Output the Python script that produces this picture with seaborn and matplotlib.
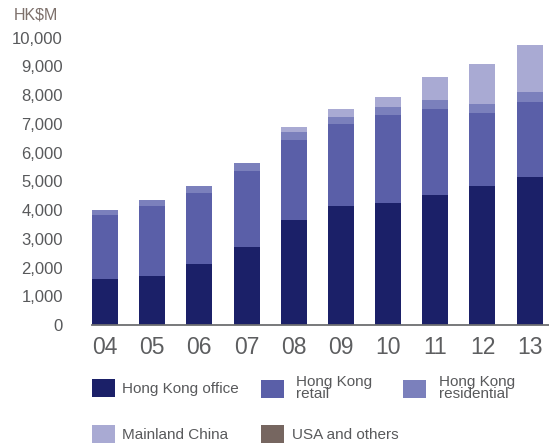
import numpy as np
import pandas as pd
import matplotlib
matplotlib.use("Agg")
import matplotlib.pyplot as plt
import seaborn as sns
from matplotlib.patches import Patch
from matplotlib.ticker import FuncFormatter

# ---- data (HK$M) ----
years = ["04", "05", "06", "07", "08", "09", "10", "11", "12", "13"]
hk_office = [1600, 1700, 2120, 2710, 3650, 4140, 4240, 4520, 4830, 5150]
hk_retail = [2230, 2440, 2470, 2650, 2780, 2850, 3060, 2990, 2540, 2610]
hk_residential = [170, 210, 240, 270, 280, 240, 280, 320, 320, 340]
mainland_china = [0, 0, 0, 0, 180, 280, 350, 800, 1390, 1640]
usa_others = [15, 0, 0, 0, 0, 0, 15, 0, 0, 0]

series_names = ["Hong Kong office", "Hong Kong\nretail", "Hong Kong\nresidential",
                "Mainland China", "USA and others"]
series_values = [hk_office, hk_retail, hk_residential, mainland_china, usa_others]
colors = ["#1b2068", "#5a5fa8", "#7b80bc", "#a9aad3", "#766660"]

sns.set_theme(style="white")
plt.rcParams["font.family"] = ["Liberation Sans", "DejaVu Sans"]

fig = plt.figure(figsize=(5.49, 4.48), dpi=100)
ax = fig.add_axes([92 / 549, 123 / 448, (549 - 92) / 549, 287.5 / 448])

# cumulative stacks, drawn from the top layer downwards
df = pd.DataFrame({"year": years})
cum = np.cumsum(np.array(series_values, dtype=float), axis=0)
for i in range(len(series_values) - 1, -1, -1):
    df["v"] = cum[i]
    sns.barplot(data=df, x="year", y="v", color=colors[i], saturation=1,
                width=0.55, linewidth=0, errorbar=None, ax=ax)

ax.set_xlim(-0.275, 9.41)
ax.set_ylim(0, 10000)
ax.set_yticks(np.arange(0, 10001, 1000))
ax.yaxis.set_major_formatter(FuncFormatter(lambda v, p: f"{int(v):,}"))
ax.set_xlabel("")
ax.set_ylabel("")
for s in ["top", "right", "left"]:
    ax.spines[s].set_visible(False)
ax.spines["bottom"].set_color("#6d6e71")
ax.spines["bottom"].set_linewidth(1.3)
ax.tick_params(axis="y", length=0, pad=21, labelsize=12, labelcolor="#58595b")
ax.tick_params(axis="x", length=0, pad=8, labelsize=16.5, labelcolor="#5d5e60")

fig.text(14 / 549, 1 - 19.3 / 448, "HK$M", fontsize=11.5, color="#7d706b",
         ha="left", va="baseline")

# legend entries
leg_pos = [(92.3, 388.3, 0.46), (261, 388.3, 0.8), (402.7, 388.3, 0.85),
           (92.3, 434.2, 0.46), (261, 434.2, 0.5)]
fs = 11
for name, col, (lx, ly, tp) in zip(series_names, colors, leg_pos):
    leg = fig.legend(handles=[Patch(facecolor=col, edgecolor="none")], labels=[name],
                     loc="center left", bbox_to_anchor=(lx / 549, 1 - ly / 448),
                     frameon=False, fontsize=fs, borderpad=0, borderaxespad=0,
                     handlelength=23 / (fs * 100 / 72), handleheight=22 / (fs * 100 / 72),
                     handletextpad=tp, labelcolor="#58595b")
    for t in leg.get_texts():
        t.set_linespacing(0.85)

fig.savefig("out.png", dpi=100)
